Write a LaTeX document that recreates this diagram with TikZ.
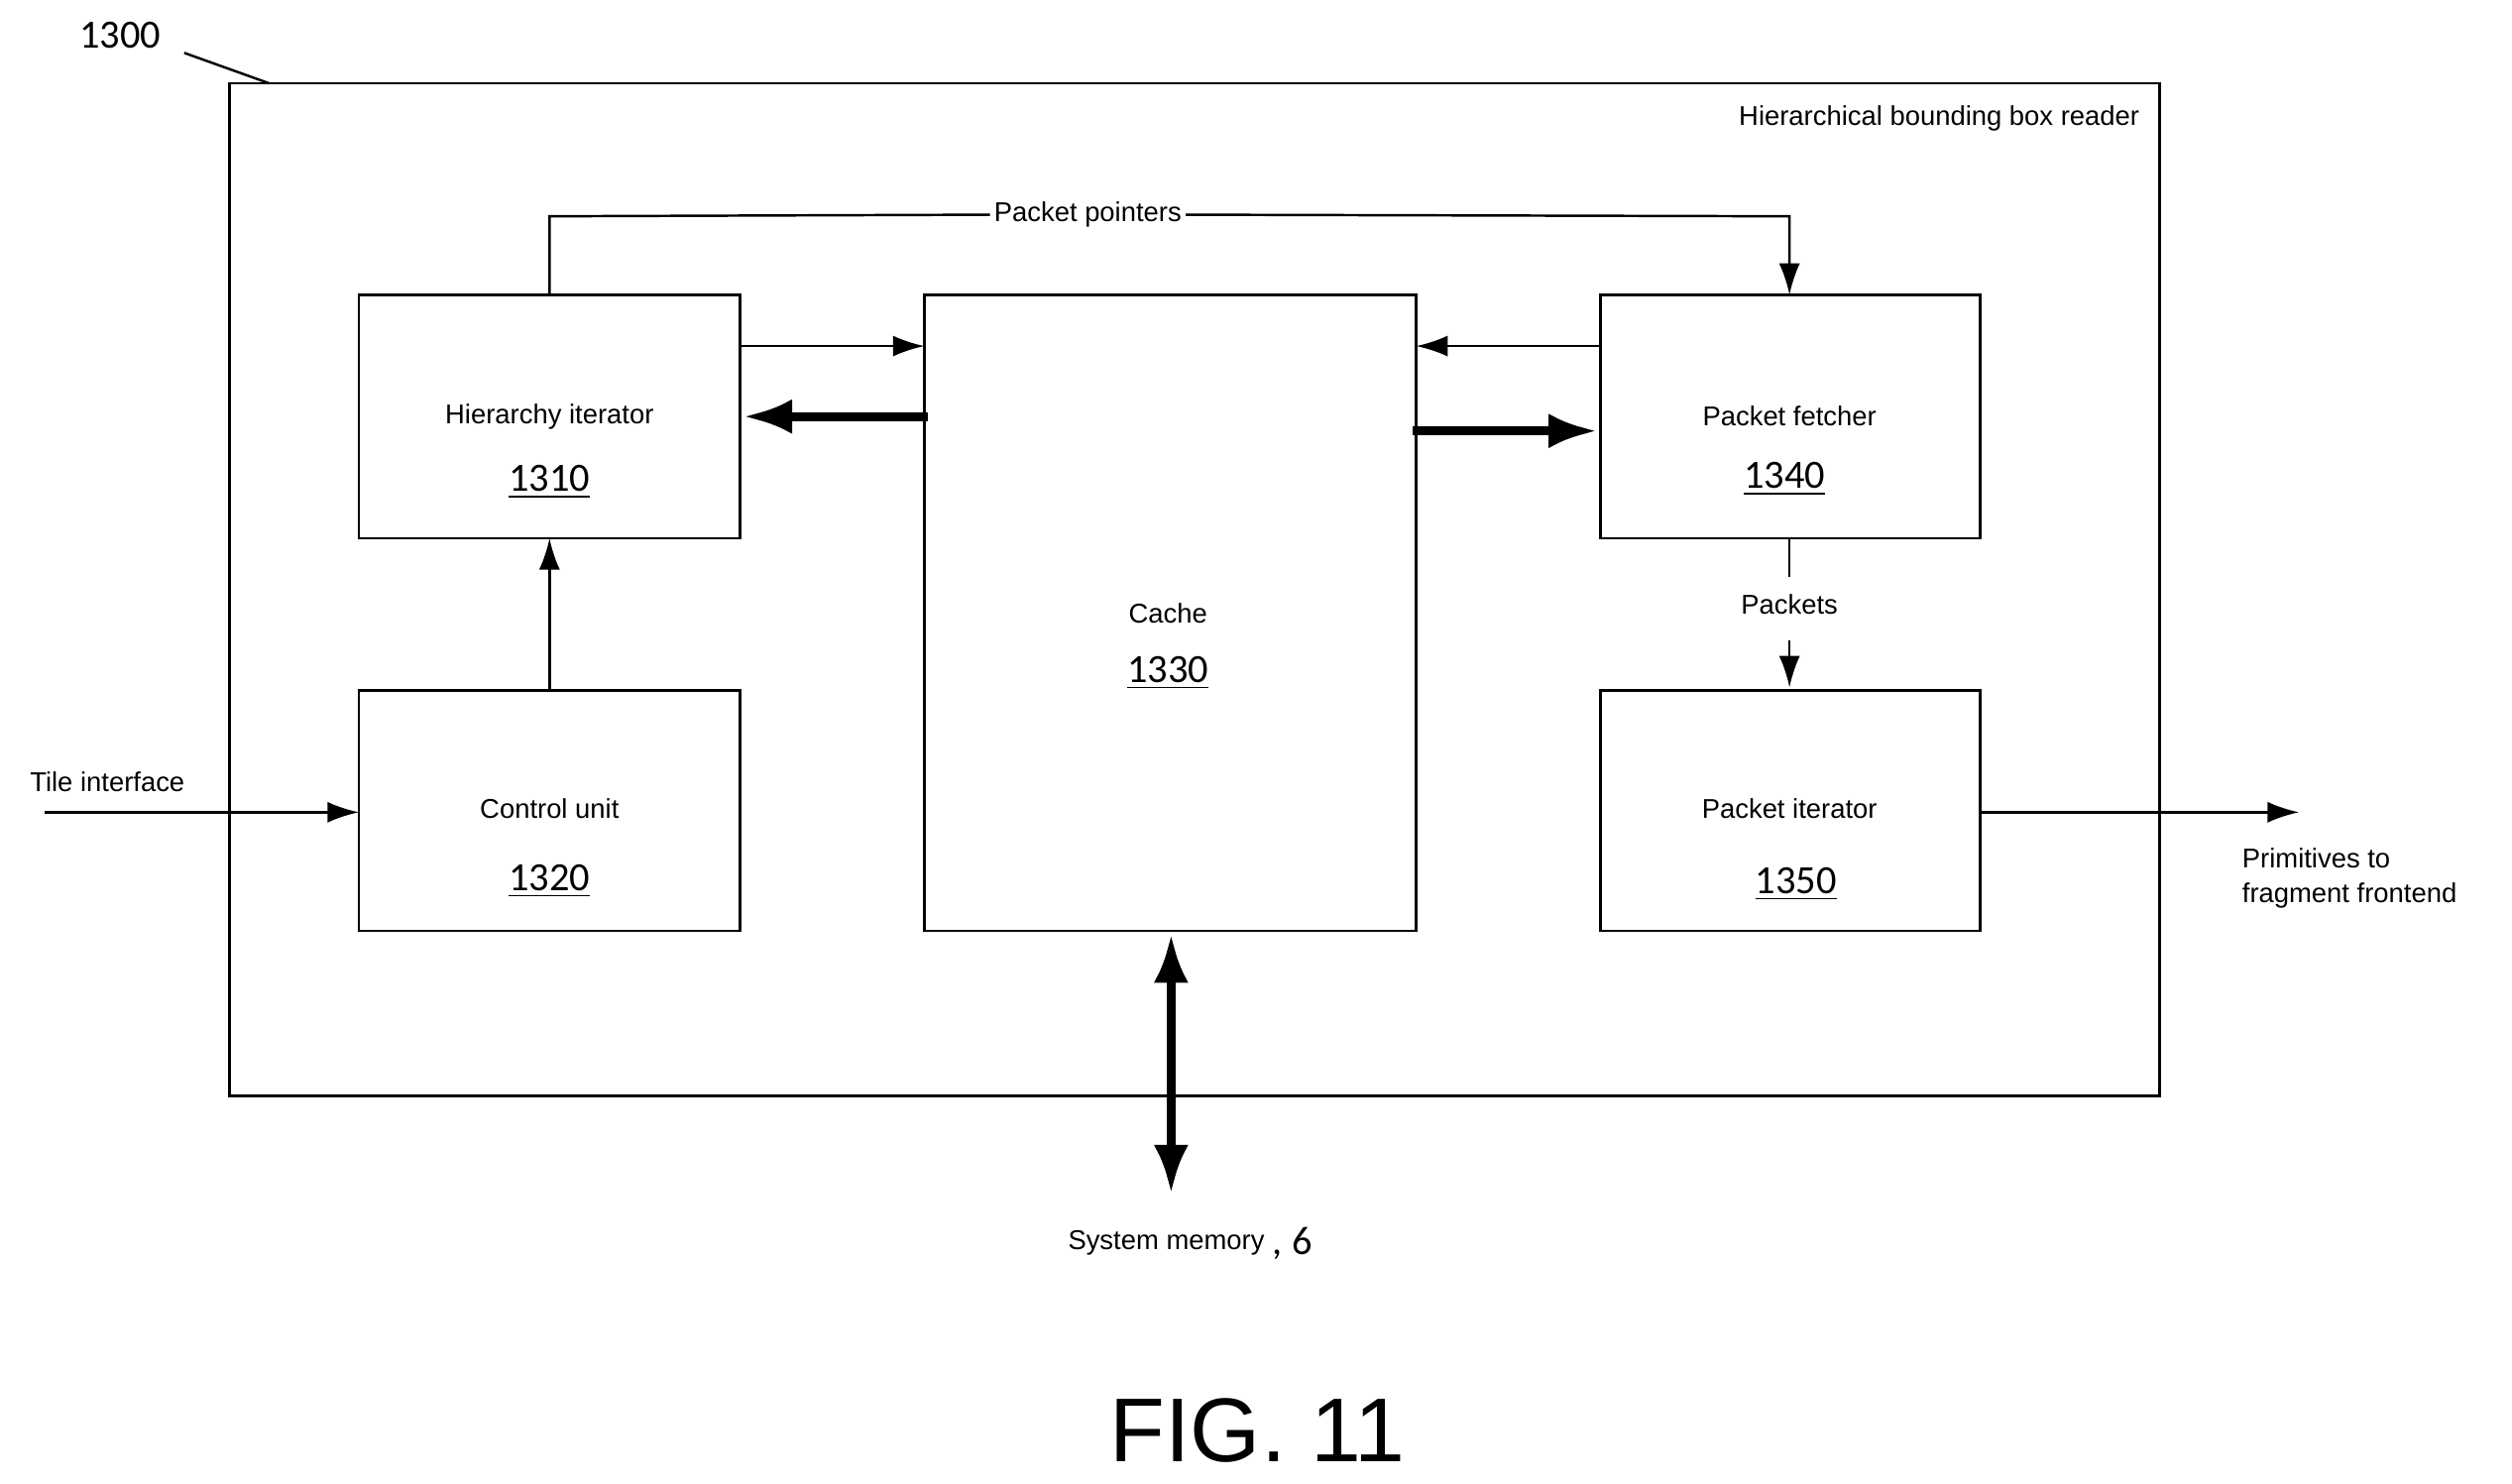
\documentclass[tikz,border=0pt]{standalone}
\usepackage{fontspec}
\setmainfont{Liberation Sans}
\newfontfamily\numfont{Carlito}
\usetikzlibrary{arrows.meta}
\begin{document}
\begin{tikzpicture}[x=0.01616cm,y=-0.01616cm,
  box/.style={draw,line width=0.8pt},
  lbl/.style={font=\fontsize{7.8}{9}\selectfont,inner sep=1pt},
  num/.style={font=\numfont\fontsize{11.5}{13}\selectfont,inner sep=1pt},
  thin/.style={line width=0.7pt,-{Latex[length=9pt,width=6pt]}},
  thick/.style={line width=2.6pt,-{Latex[length=14pt,width=10pt]}}]
\useasboundingbox (0,0) rectangle (1568,926);
\draw[box] (143,52) rectangle (1348,684);
\node[num] (n1300) at (75,22) {1300};
\draw[line width=0.7pt] (115,33) -- (168,52);
\node[lbl,anchor=east] (hbb) at (1338,74) {Hierarchical bounding box reader};
\draw[box] (224,184) rectangle (462,336);
\node[lbl] (hi) at (343,260) {Hierarchy iterator};
\node[num] (hin) at (343,301) {\underline{1310}};
\coordinate (hiT) at (343,184); \coordinate (hiB) at (343,336);
\draw[box] (224,431) rectangle (462,581);
\node[lbl] (cu) at (343,505) {Control unit};
\node[num] (cun) at (343,550) {\underline{1320}};
\coordinate (cuT) at (343,431);
\draw[box] (577,184) rectangle (884,581);
\node[lbl] (ca) at (729,383) {Cache};
\node[num] (can) at (729,420) {\underline{1330}};
\draw[box] (999,184) rectangle (1236,336);
\node[lbl] (pf) at (1117,260) {Packet fetcher};
\node[num] (pfn) at (1114,299) {\underline{1340}};
\draw[box] (999,431) rectangle (1236,581);
\node[lbl] (pi) at (1117,505) {Packet iterator};
\node[num] (pin) at (1121,552) {\underline{1350}};
% packet pointers
\node[lbl] (pp) at (679,134) {Packet pointers};
\draw[line width=0.7pt] (hiT) -- (343,135) -- (pp.west);
\coordinate (pfT) at (1117,184);
\draw[thin] (pp.east) -- (1117,135) -- (pfT);
% HI <-> cache
\coordinate (a1) at (462,216); \coordinate (a2) at (577,216);
\draw[thin] (a1) -- (a2);
\coordinate (b1) at (579,260); \coordinate (b2) at (464,260);
\draw[thick] (b1) -- (b2);
\coordinate (c1) at (999,216); \coordinate (c2) at (884,216);
\draw[thin] (c1) -- (c2);
\coordinate (d1) at (882,269); \coordinate (d2) at (997,269);
\draw[thick] (d1) -- (d2);
\draw[thin] (cuT) -- (hiB);
% packets
\node[lbl] (pk) at (1117,377) {Packets};
\coordinate (pfB) at (1117,336); \coordinate (piT) at (1117,429);
\draw[line width=0.7pt] (pfB) -- (1117,360);
\draw[thin] (1117,400) -- (piT);
% tile interface
\node[lbl] (ti) at (67,488) {Tile interface};
\coordinate (tiS) at (28,507); \coordinate (cuL) at (224,507);
\draw[thin] (tiS) -- (cuL);
\coordinate (piR) at (1236,507); \coordinate (prE) at (1435,507);
\draw[thin] (piR) -- (prE);
\node[lbl,anchor=west,align=left] (pr) at (1397,548) {Primitives to\\[1pt]fragment frontend};
% system memory
\coordinate (m1) at (731,583); \coordinate (m2) at (731,745);
\draw[line width=2.6pt,{Latex[length=14pt,width=10pt]}-{Latex[length=14pt,width=10pt]}] (m1) -- (m2);
\node[lbl] (sm) at (728,776) {System memory};
\node[num,anchor=west] (six) at (sm.east) {, 6};
\node[font=\fontsize{26}{30}\selectfont] (fig) at (785,893) {FIG. 11};
\end{tikzpicture}
\end{document}
